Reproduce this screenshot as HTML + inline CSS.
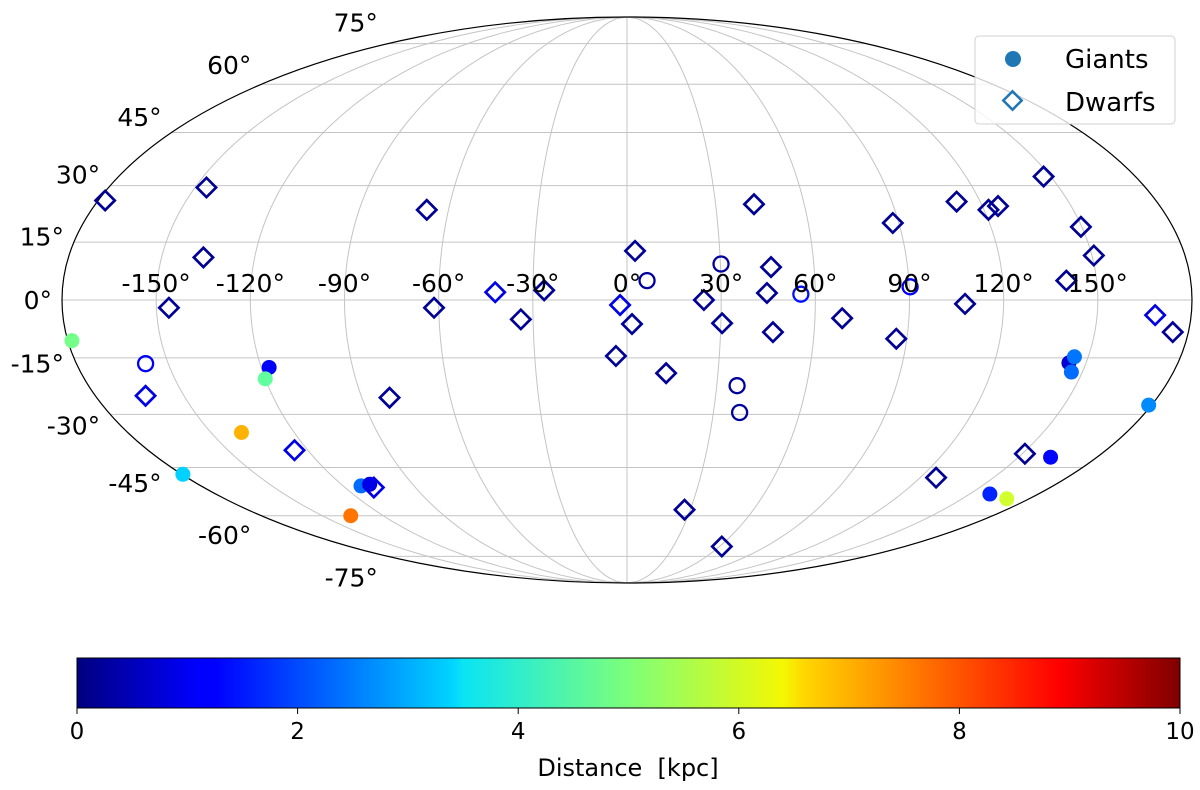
<!DOCTYPE html>
<html><head><meta charset="utf-8"><style>
html,body{margin:0;padding:0;background:#fff;}
svg text{font-family:"DejaVu Sans","Liberation Sans",sans-serif;}
</style></head><body>
<svg id="chart" width="1200" height="785" viewBox="0 0 1200 785" xmlns="http://www.w3.org/2000/svg">
<g id="grid"></g>
<g id="marks"></g>
<g id="labels"></g>
<g id="legend">
  <rect x="975" y="36" width="200" height="88" rx="4" fill="rgba(255,255,255,0.8)" stroke="#d0d0d0"/>
  <circle cx="1013" cy="59" r="8" fill="#1f77b4"/>
  <text x="1065" y="68" font-size="26">Giants</text>
  <rect x="1006" y="94" width="13" height="13" fill="none" stroke="#1f77b4" stroke-width="2.5" transform="rotate(45 1012.5 100.5)"/>
  <text x="1065" y="111" font-size="26">Dwarfs</text>
</g>
<defs><linearGradient id="jet" x1="0" x2="1" y1="0" y2="0">
<stop offset="0" stop-color="#00007f"/><stop offset="0.11" stop-color="#0000ff"/><stop offset="0.125" stop-color="#0000ff"/><stop offset="0.34" stop-color="#00d4ff"/><stop offset="0.35" stop-color="#0ae4f4"/><stop offset="0.5" stop-color="#7dff7a"/><stop offset="0.64" stop-color="#f4f802"/><stop offset="0.66" stop-color="#ffd600"/><stop offset="0.89" stop-color="#ff0000"/><stop offset="1" stop-color="#7f0000"/>
</linearGradient></defs>
<g id="colorbar">
  <rect x="77" y="658" width="1103" height="50" fill="url(#jet)" stroke="#000" stroke-width="1"/>
</g>
<text x="628" y="776" font-size="24" text-anchor="middle" xml:space="preserve">Distance  [kpc]</text>
</svg>
<script>
const cbTicks = [0, 2, 4, 6, 8, 10];
const lonTicks = [-150, -120, -90, -60, -30, 0, 30, 60, 90, 120, 150];
const latTicks = [-75, -60, -45, -30, -15, 0, 15, 30, 45, 60, 75];
// Dwarfs (diamonds)
const dwarfLon = [-177.6,-146,-136.5,-146,-163,-125,-80.6,-107.7,-67.3,-61.5,-42,-33.9,-26.4,2.6,-2.2,1.6,-3.6,12.9,24.5,30.4,43,46.2,44.6,46.8,68.7,88,86.6,112,107.7,121.5,125.3,147.5,149.7,150.6,140.3,168.5,175,151,126.5,27.3,61.5];
const dwarfLat = [26,29.5,11,-2,-25,-40,-25.5,-51,23.5,-2,2,-5,2.5,12.7,-1.3,-6.2,-14.5,-19,0,-6,25,8.5,1.8,-8.3,-4.7,20,-10,25.7,-1,23.5,24.5,32.5,19,11.5,5,-3.9,-8.3,-41,-48,-58,-71];
const dwarfDist = [0.2,0.2,0.2,0.2,1.0,1.0,0.2,1.0,0.2,0.2,1.0,0.2,0.2,0.2,1.0,0.2,0.2,0.2,0.2,0.2,0.2,0.2,0.2,0.2,0.2,0.2,0.2,0.2,0.2,0.2,0.2,0.2,0.2,0.2,0.2,1.0,0.2,0.2,0.2,0.2,0.2];
// Other (open circles)
const openLon = [-157.4,6.4,30.2,36.8,39.1,55.4,90.3];
const openLat = [-16.5,5,9.3,-22.3,-29.5,1.5,3.4];
const openDist = [1.2,0.3,0.3,0.3,0.3,1.4,1.2];
// Giants (filled circles)
const giantLon = [-178.7,-117.4,-120,-139,-179.6,-112.4,-108,-136,144.4,145.5,146.4,179,162.3,158.8,170];
const giantLat = [-10.5,-17.5,-20.5,-35,-47,-50.5,-50,-60,-16.3,-14.7,-18.7,-27.5,-42,-53,-54.5];
const giantDist = [4.9,1.2,4.7,7.0,3.3,2.3,1.0,7.6,0.8,2.4,2.3,2.6,1.3,1.6,5.8];

const NS='http://www.w3.org/2000/svg';
const CX=627, CY=300, A=565, B=283;
function theta(latDeg){const p=latDeg*Math.PI/180; if(Math.abs(Math.abs(p)-Math.PI/2)<1e-9) return p;
  let t=p; for(let i=0;i<50;i++){const f=2*t+Math.sin(2*t)-Math.PI*Math.sin(p); const d=2+2*Math.cos(2*t); if(Math.abs(d)<1e-12)break; t-=f/d;} return t;}
function px(lon,lat){const t=theta(lat); return CX+A*(lon/180)*Math.cos(t);}
function py(lat){return CY-B*Math.sin(theta(lat));}
function jet(v){const x=Math.max(0,Math.min(1,v/10));const c=q=>Math.round(255*Math.max(0,Math.min(1,1.5-Math.abs(4*x-q))));return `rgb(${c(3)},${c(2)},${c(1)})`;}
function mk(tag,attrs,parent){const e=document.createElementNS(NS,tag);for(const k in attrs)e.setAttribute(k,attrs[k]);parent.appendChild(e);return e;}
const grid=document.getElementById('grid'), marks=document.getElementById('marks'), labels=document.getElementById('labels'), cb=document.getElementById('colorbar');
for(let lat=-75;lat<=75;lat+=15){const y=py(lat),w=A*Math.cos(theta(lat));
  const l=mk('line',{x1:CX-w,x2:CX+w,y1:y,y2:y,stroke:'#c4c4c4','stroke-width':1},grid);
  
  }
for(let lon=-150;lon<=150;lon+=30){let d='';for(let lat=-90;lat<=90;lat+=2){d+=(lat===-90?'M':'L')+px(lon,lat).toFixed(2)+' '+py(lat).toFixed(2);}
  const p=mk('path',{d:d,fill:'none',stroke:'#c4c4c4','stroke-width':1},grid);
  
  }
const el=mk('ellipse',{cx:CX,cy:CY,rx:A,ry:B,fill:'none',stroke:'#000','stroke-width':1.2},grid);


lonTicks.forEach(l=>{const t=mk('text',{x:px(l,0),y:292,'font-size':25,'text-anchor':'middle'},labels);t.textContent=l+'°';
  
  });
latTicks.forEach(l=>{const edge=CX-A*Math.cos(theta(l));const y=py(l)-22*Math.sin(l*Math.PI/180)+9;
  const t=mk('text',{x:edge-10,y:y,'font-size':25,'text-anchor':'end'},labels);t.textContent=l+'°';
  
  });
giantLon.forEach((lo,i)=>{const c=mk('circle',{cx:px(lo,giantLat[i]),cy:py(giantLat[i]),r:7.5,fill:jet(giantDist[i])},marks);
  
  });
openLon.forEach((lo,i)=>{const c=mk('circle',{cx:px(lo,openLat[i]),cy:py(openLat[i]),r:7.5,fill:'none',stroke:jet(openDist[i]),'stroke-width':2.3},marks);
  
  });
dwarfLon.forEach((lo,i)=>{const x=px(lo,dwarfLat[i]),y=py(dwarfLat[i]);
  const r=mk('rect',{x:x-6.8,y:y-6.8,width:13.6,height:13.6,fill:'none',stroke:jet(dwarfDist[i]),'stroke-width':2.7,transform:`rotate(45 ${x} ${y})`},marks);
  
  });
cbTicks.forEach(v=>{const x=77+1103*v/10;
  const t=mk('line',{x1:x,x2:x,y1:708,y2:714,stroke:'#000','stroke-width':1},cb);
  
  
  const tx=mk('text',{x:x,y:739,'font-size':23,'text-anchor':'middle'},cb);tx.textContent=v;
  
  });
</script>
</body></html>
